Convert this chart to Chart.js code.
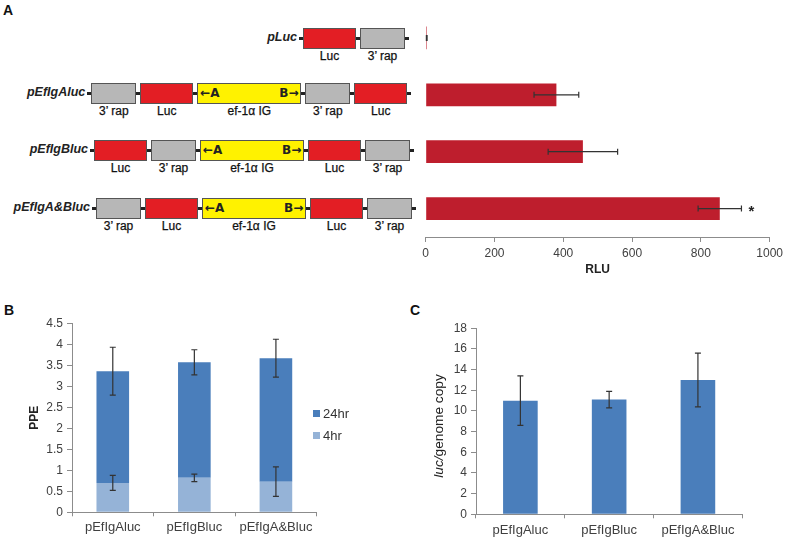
<!DOCTYPE html>
<html>
<head>
<meta charset="utf-8">
<script src="https://cdn.jsdelivr.net/npm/chart.js@4.4.0/dist/chart.umd.min.js"></script>
<style>
  body { margin: 0; background: #fff; font-family: "Liberation Sans", Arial, sans-serif; }
  #page { position: relative; width: 787px; height: 540px; overflow: hidden; }
  .abs { position: absolute; }
  .letter { font-weight: bold; font-size: 14px; line-height: 14px; color: #111; }
  .rowline { position: absolute; height: 3px; background: #222; }
  .box { position: absolute; box-sizing: border-box; border: 1px solid #555; }
  .boxlabel { position: absolute; width: 120px; text-align: center; font-size: 12px; line-height: 14px; color: #111; -webkit-text-stroke: 0.25px #111; }
  .rowname { position: absolute; width: 100px; text-align: right; font-size: 12.5px; line-height: 14px; font-weight: bold; font-style: italic; color: #222; }
  .arrow { position: absolute; font-family: "DejaVu Sans", sans-serif; font-weight: bold; font-size: 12px; line-height: 14px; color: #222; }
  .legend { position: absolute; font-size: 13px; line-height: 14px; color: #333; }
  .legend span { display: inline-block; width: 7px; height: 7px; margin-right: 3px; vertical-align: 1px; }
</style>
</head>
<body>
<div id="page">
  <div class="abs letter" style="left:3px; top:3px;">A</div>
  <div class="abs letter" style="left:4px; top:303px;">B</div>
  <div class="abs letter" style="left:410px; top:303px;">C</div>
  <div id="scheme"></div>
  <canvas id="rluChart" class="abs" width="377" height="285" style="left:410px; top:0px;"></canvas>
  <canvas id="ppeChart" class="abs" width="400" height="260" style="left:0px; top:280px;"></canvas>
  <canvas id="copyChart" class="abs" width="387" height="260" style="left:400px; top:280px;"></canvas>
  <div class="legend" style="left:313px; top:407px;"><span style="background:#4a7ebb"></span>24hr</div>
  <div class="legend" style="left:313px; top:429px;"><span style="background:#95b3d7"></span>4hr</div>
  <div class="abs" style="left:439px; top:426px; width:0; height:0;">
    <div style="position:absolute; left:-70px; top:-8px; width:140px; text-align:center; transform:rotate(-90deg); font-size:13.7px; line-height:16px; color:#222;"><i>luc/</i>genome copy</div>
  </div>
</div>
<script>
// panel A: constructs and luciferase activity
const constructNames = ["pLuc", "pEfIgAluc", "pEfIgBluc", "pEfIgA&Bluc"];
const constructParts = [
  ["luc", "rap"],
  ["rap", "luc", "ef", "rap", "luc"],
  ["luc", "rap", "ef", "luc", "rap"],
  ["rap", "luc", "ef", "luc", "rap"],
];
const rluValues = [3, 380, 457, 855];
const rluErrors = [1, 65, 101, 63];
const rluMarks = ["", "", "", "*"];

// panel B: plasmid protection efficiency
const ppeLabels = ["pEfIgAluc", "pEfIgBluc", "pEfIgA&Bluc"];
const ppe4hr = [0.7, 0.82, 0.73];
const ppe4hrErr = [0.18, 0.09, 0.35];
const ppe24hr = [2.66, 2.75, 2.94];
const ppe24hrErr = [0.57, 0.3, 0.45];
const ppeTicks = [0, 0.5, 1, 1.5, 2, 2.5, 3, 3.5, 4, 4.5];

// panel C: copies per genome
const copyLabels = ["pEfIgAluc", "pEfIgBluc", "pEfIgA&Bluc"];
const copyValues = [11.0, 11.1, 13.0];
const copyErrors = [2.4, 0.8, 2.6];

// schematic layout (drawing only)
const partStyle = {
  luc: { w: 53, fill: "#e31e24", text: "Luc" },
  rap: { w: 45, fill: "#b7b7b7", text: "3\u2019 rap" },
  ef: { w: 104, fill: "#fff200", text: "ef-1\u03b1 IG" },
};
const rowLeft = [299, 87.3, 90, 92];
const rowTop = [28.3, 83.3, 140, 197.7];
const BOX_H = 21;
const GAP = 4;

function drawScheme() {
  const host = document.getElementById("scheme");
  let html = "";
  constructParts.forEach((parts, r) => {
    const top = rowTop[r];
    let x = rowLeft[r] + GAP;
    let boxes = "";
    for (const p of parts) {
      const s = partStyle[p];
      boxes += `<div class="box" style="left:${x}px;top:${top}px;width:${s.w}px;height:${BOX_H}px;background:${s.fill}"></div>`;
      boxes += `<div class="boxlabel" style="left:${x + s.w / 2 - 60}px;top:${top + BOX_H}px">${s.text}</div>`;
      if (p === "ef") {
        boxes += `<div class="arrow" style="left:${x + 3}px;top:${top + 3}px">\u2190A</div>`;
        boxes += `<div class="arrow" style="left:${x + s.w - 22}px;top:${top + 3}px">B\u2192</div>`;
      }
      x += s.w + GAP;
    }
    html += `<div class="rowline" style="left:${rowLeft[r]}px;top:${top + BOX_H / 2 - 1.5}px;width:${x - rowLeft[r]}px"></div>`;
    html += boxes;
    html += `<div class="rowname" style="left:${rowLeft[r] - 102}px;top:${top + 2}px">${constructNames[r]}</div>`;
  });
  host.innerHTML = html;
}

const errorBars = {
  id: "errorBars",
  afterDatasetsDraw(chart, args, opts) {
    const ctx = chart.ctx;
    const horizontal = chart.options.indexAxis === "y";
    const vScale = horizontal ? chart.scales.x : chart.scales.y;
    const cap = opts.cap || 3;
    chart.data.datasets.forEach((ds, di) => {
      if (!ds.errors) return;
      const meta = chart.getDatasetMeta(di);
      meta.data.forEach((bar, i) => {
        const d = Math.abs(vScale.getPixelForValue(ds.errors[i]) - vScale.getPixelForValue(0));
        ctx.save();
        ctx.strokeStyle = "#333";
        ctx.lineWidth = 1.2;
        ctx.beginPath();
        if (horizontal) {
          ctx.moveTo(bar.x - d, bar.y); ctx.lineTo(bar.x + d, bar.y);
          ctx.moveTo(bar.x - d, bar.y - cap); ctx.lineTo(bar.x - d, bar.y + cap);
          ctx.moveTo(bar.x + d, bar.y - cap); ctx.lineTo(bar.x + d, bar.y + cap);
        } else {
          ctx.moveTo(bar.x, bar.y - d); ctx.lineTo(bar.x, bar.y + d);
          ctx.moveTo(bar.x - cap, bar.y - d); ctx.lineTo(bar.x + cap, bar.y - d);
          ctx.moveTo(bar.x - cap, bar.y + d); ctx.lineTo(bar.x + cap, bar.y + d);
        }
        ctx.stroke();
        if (ds.marks && ds.marks[i]) {
          ctx.fillStyle = "#222";
          ctx.font = "bold 15px 'Liberation Sans', Arial";
          ctx.textBaseline = "middle";
          ctx.fillText(ds.marks[i], bar.x + d + 7, bar.y + 3);
        }
        ctx.restore();
      });
    });
  },
};

const tickFont = { family: "'Liberation Sans', Arial, sans-serif", size: 12 };
const catFont = { family: "'Liberation Sans', Arial, sans-serif", size: 13 };
const axisGray = "#8c8c8c";

function renderRlu() {
  new Chart(document.getElementById("rluChart"), {
    type: "bar",
    data: {
      labels: constructNames,
      datasets: [{
        data: rluValues,
        errors: rluErrors,
        marks: rluMarks,
        backgroundColor: "#be1e2d",
        categoryPercentage: 1,
        barPercentage: 0.4,
      }],
    },
    options: {
      indexAxis: "y",
      responsive: false,
      animation: false,
      devicePixelRatio: 1,
      layout: { padding: { left: 15.7, right: 16.3, top: 9.5, bottom: 4 } },
      plugins: { legend: { display: false }, tooltip: { enabled: false }, errorBars: { cap: 3 } },
      scales: {
        y: { display: false },
        x: {
          min: 0,
          max: 1000,
          afterFit(scale) { scale.height = 44; },
          ticks: { stepSize: 200, color: "#404040", font: tickFont, padding: 4, callback: (v) => `${v}` },
          grid: { drawOnChartArea: false, drawTicks: true, tickLength: 5, color: axisGray },
          border: { color: axisGray },
          title: { display: true, text: "RLU", color: "#222", font: { ...tickFont, weight: "bold" }, padding: { top: 2, bottom: 4 } },
        },
      },
    },
    plugins: [errorBars],
  });
}

function renderPpe() {
  new Chart(document.getElementById("ppeChart"), {
    type: "bar",
    data: {
      labels: ppeLabels,
      datasets: [
        { label: "4hr", data: ppe4hr, errors: ppe4hrErr, backgroundColor: "#95b3d7", categoryPercentage: 1, barPercentage: 0.4 },
        { label: "24hr", data: ppe24hr, errors: ppe24hrErr, backgroundColor: "#4a7ebb", categoryPercentage: 1, barPercentage: 0.4 },
      ],
    },
    options: {
      responsive: false,
      animation: false,
      devicePixelRatio: 1,
      layout: { padding: { left: 23, right: 83.3, top: 43.3, bottom: 0 } },
      plugins: { legend: { display: false }, tooltip: { enabled: false }, errorBars: { cap: 3 } },
      scales: {
        x: {
          stacked: true,
          afterFit(scale) { scale.height = 27.7; },
          ticks: { color: "#404040", font: catFont, padding: 3 },
          grid: { offset: true, drawOnChartArea: false, drawTicks: true, tickLength: 4, color: axisGray },
          border: { color: axisGray },
        },
        y: {
          stacked: true,
          min: 0,
          max: 4.5,
          afterFit(scale) { scale.width = 49; },
          afterBuildTicks(scale) { scale.ticks = ppeTicks.map((v) => ({ value: v })); },
          ticks: { color: "#404040", font: tickFont, padding: 4, callback: (v) => `${v}` },
          grid: { drawOnChartArea: false, drawTicks: true, tickLength: 5, color: axisGray },
          border: { color: axisGray },
          title: { display: true, text: "PPE", color: "#222", font: { ...tickFont, weight: "bold" }, padding: { top: 4, bottom: 4 } },
        },
      },
    },
    plugins: [errorBars],
  });
}

function renderCopy() {
  new Chart(document.getElementById("copyChart"), {
    type: "bar",
    data: {
      labels: copyLabels,
      datasets: [{
        data: copyValues,
        errors: copyErrors,
        backgroundColor: "#4a7ebb",
        categoryPercentage: 1,
        barPercentage: 0.39,
      }],
    },
    options: {
      responsive: false,
      animation: false,
      devicePixelRatio: 1,
      layout: { padding: { left: 0, right: 44.7, top: 48.3, bottom: 0 } },
      plugins: { legend: { display: false }, tooltip: { enabled: false }, errorBars: { cap: 3 } },
      scales: {
        x: {
          afterFit(scale) { scale.height = 25.7; },
          ticks: { color: "#404040", font: catFont, padding: 4 },
          grid: { offset: true, drawOnChartArea: false, drawTicks: true, tickLength: 4, color: axisGray },
          border: { color: axisGray },
        },
        y: {
          min: 0,
          max: 18,
          afterFit(scale) { scale.width = 76; },
          ticks: { stepSize: 2, color: "#404040", font: tickFont, padding: 4 },
          grid: { drawOnChartArea: false, drawTicks: true, tickLength: 5, color: axisGray },
          border: { color: axisGray },
        },
      },
    },
    plugins: [errorBars],
  });
}

drawScheme();
renderRlu();
renderPpe();
renderCopy();
</script>
</body>
</html>
